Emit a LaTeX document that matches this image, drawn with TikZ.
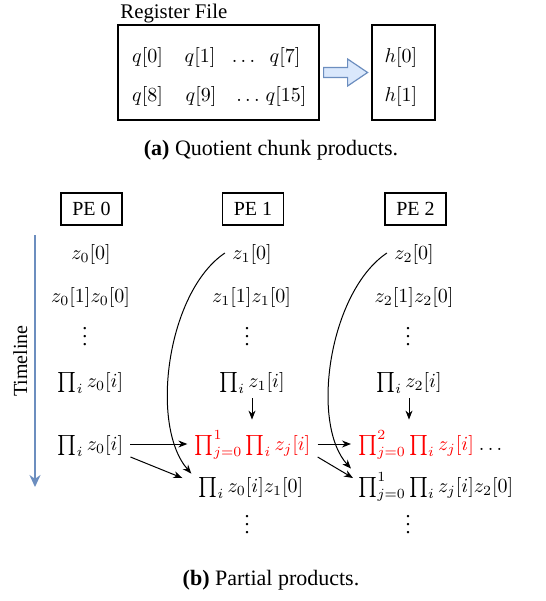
\documentclass[tikz,border=0pt]{standalone}
\usepackage[no-math]{fontspec}
\setmainfont{Liberation Serif}
\usepackage{xcolor}
\usepackage{tikz}
\usetikzlibrary{arrows.meta}

\definecolor{tlblue}{HTML}{6C8EBF}
\definecolor{fatfill}{HTML}{DAE8FC}

\begin{document}
\begin{tikzpicture}[
  x=0.5pt, y=-0.5pt,
  regbox/.style={draw, line width=0.6pt},
  pebox/.style={draw, line width=0.6pt, minimum width=30.5pt, minimum height=16pt, inner sep=0pt},
  cell/.style={text height=8pt, text depth=2pt, inner sep=3.5pt},
  dotcell/.style={anchor=base, inner sep=0pt},
  arr/.style={-{Stealth[length=4.5pt, width=3.5pt]}, line width=0.5pt},
  timearr/.style={-{Stealth[length=6pt, width=5.5pt]}, draw=tlblue, line width=1pt},
  fatarrow/.style={draw=tlblue, fill=fatfill, line width=0.6pt},
  caption/.style={font=\fontsize{11}{13}\selectfont}
]
  \useasboundingbox (0,0) rectangle (546,601);

  % (a) register file and the two h values
  \node[regbox, minimum width=100.5pt, minimum height=47.5pt] (reg) at (218.5,72.5) {};
  \node[anchor=base west, inner sep=0pt, font=\fontsize{10.4}{12}\selectfont] (reglabel) at (120,18) {Register File};
  \node[cell] (q0) at (147.5,56) {$q[0]$};
  \node[cell] (q1) at (200,56) {$q[1]$};
  \node[cell] (qd1) at (243.5,56) {$\dots$};
  \node[cell] (q7) at (285,56) {$q[7]$};
  \node[cell] (q8) at (147.5,95) {$q[8]$};
  \node[cell] (q9) at (201,95) {$q[9]$};
  \node[cell] (qd2) at (248,95) {$\dots$};
  \node[cell] (q15) at (286,95) {$q[15]$};

  \node[regbox, minimum width=31.5pt, minimum height=47.5pt] (hreg) at (403.5,72.5) {};
  \node[cell] (h0) at (401,56) {$h[0]$};
  \node[cell] (h1) at (401,95) {$h[1]$};

  \draw[fatarrow] ([xshift=2pt]reg.east) ++(0,-5) -- ++(24,0) -- ++(0,-8.5) -- ++(20,13.5)
    -- ++(-20,13.5) -- ++(0,-8.5) -- ++(-24,0) -- cycle;

  \node[caption] (capa) at (271,150) {\textbf{(a)} Quotient chunk products.};

  % (b) processing elements
  \node[pebox] (pe0) at (91.5,209) {PE 0};
  \node[pebox] (pe1) at (253,209) {PE 1};
  \node[pebox] (pe2) at (415.5,209) {PE 2};

  \coordinate (tltop) at (35,235);
  \coordinate (tlbot) at (35,487);
  \draw[timearr] (tltop) -- node[midway, above, rotate=90] (tllabel) {Timeline} (tlbot);

  % PE 0
  \node[cell] (a1) at (91,253) {$z_0[0]$};
  \node[cell] (a2) at (90.5,296) {$z_0[1]z_0[0]$};
  \node[dotcell] (a3) at (85,345) {$\vdots$};
  \node[cell] (a4) at (90.5,381) {$\prod_i z_0[i]$};
  \node[cell] (a5) at (90.5,444) {$\prod_i z_0[i]$};

  % PE 1
  \node[cell] (b1) at (252,253) {$z_1[0]$};
  \node[cell] (b2) at (251.5,296) {$z_1[1]z_1[0]$};
  \node[dotcell] (b3) at (247,345) {$\vdots$};
  \node[cell] (b4) at (252,381) {$\prod_i z_1[i]$};
  \node[cell] (b5) at (252.5,444) {{\color{red}$\prod_{j=0}^{1}\prod_i z_j[i]$}};
  \node[cell] (b6) at (251,486) {$\prod_i z_0[i]z_1[0]$};
  \node[dotcell] (b7) at (247,533) {$\vdots$};

  % PE 2
  \node[cell] (c1) at (414,253) {$z_2[0]$};
  \node[cell] (c2) at (414,296) {$z_2[1]z_2[0]$};
  \node[dotcell] (c3) at (408,345) {$\vdots$};
  \node[cell] (c4) at (409,381) {$\prod_i z_2[i]$};
  \node[cell, anchor=west] (c5) at (351,444) {{\color{red}$\prod_{j=0}^{2}\prod_i z_j[i]$} $\dots$};
  \node[cell, anchor=west] (c6) at (351,486) {$\prod_{j=0}^{1}\prod_i z_j[i]z_2[0]$};
  \node[dotcell] (c7) at (408,533) {$\vdots$};

  \draw[arr] (a5.east) -- (b5.west);
  \draw[arr] ([yshift=-6.5pt]a5.east) -- ([shift={(-4.5pt,4pt)}]b6.west);
  \draw[arr] (b5.east) -- (c5.west);
  \draw[arr] ([yshift=-6.5pt]b5.east) -- ([shift={(1pt,4pt)}]c6.west);

  \draw[arr, shorten >=3.5pt] (b4.south) -- (b4.south |- b5.north);
  \draw[arr, shorten >=3.5pt] (c4.south) -- (c4.south |- c5.north);

  % z[0] handed over to the next PE
  \draw[arr] (b1.west) .. controls +(-58,39) and +(-42,-48) .. ([yshift=-2.5pt]b6.north west);
  \draw[arr] (c1.west) .. controls +(-58,39) and +(-41,-45) .. (c6.north west);

  \node[caption] (capb) at (271,580) {\textbf{(b)} Partial products.};
\end{tikzpicture}
\end{document}
